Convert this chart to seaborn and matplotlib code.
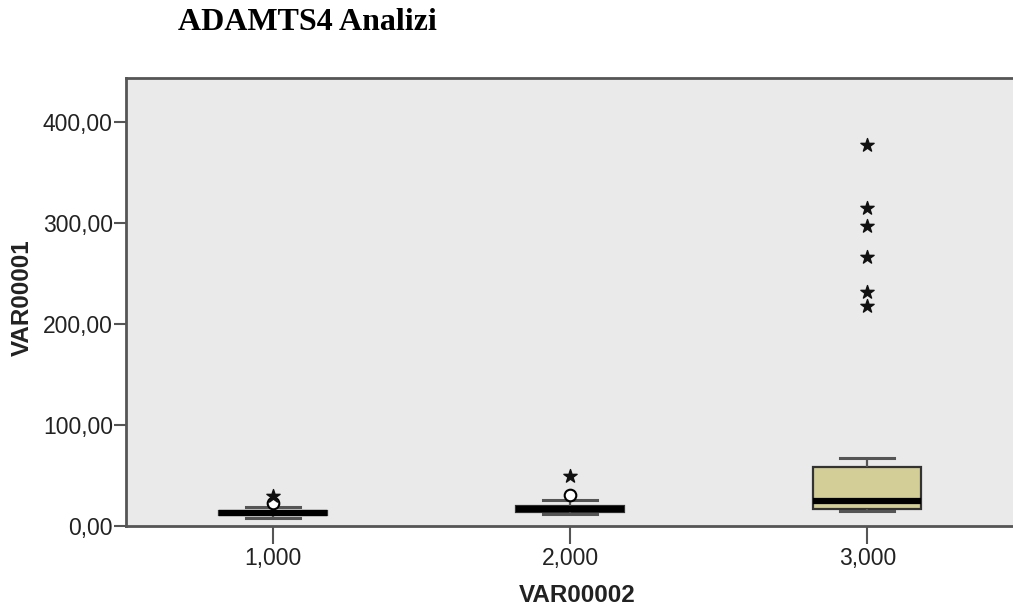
import numpy as np
import pandas as pd
import seaborn as sns
import matplotlib.pyplot as plt
from matplotlib.ticker import FuncFormatter

# ---- data ----
categories = ["1,000", "2,000", "3,000"]
group1 = [7.5, 8.4, 9.1, 9.8, 10.5, 10.9, 11.4, 12.0, 12.5, 13.0, 13.6, 14.3,
          15.0, 17.2, 19.0, 22.5, 30.0]
group2 = [12.0, 12.4, 12.8, 13.1, 13.5, 14.2, 15.0, 15.8, 16.5, 17.3, 18.1,
          19.0, 20.0, 22.3, 25.5, 30.5, 49.5]
group3 = [14.9, 15.2, 15.5, 15.8, 16.0, 16.3, 16.6, 16.8, 18.0, 19.5, 20.6,
          21.8, 22.9, 23.9, 24.8, 28.5, 33.0, 38.4, 44.1, 49.6, 54.2, 58.4,
          67.3, 218.0, 232.0, 267.0, 297.0, 315.0, 378.0]
y_ticks = [0, 100, 200, 300, 400]
title = "ADAMTS4 Analizi"
x_label = "VAR00002"
y_label = "VAR00001"

groups = [group1, group2, group3]
df = pd.DataFrame({
    x_label: np.repeat(categories, [len(g) for g in groups]),
    y_label: np.concatenate(groups),
})

# SPSS style outliers: circles (1.5-3 IQR), stars (>3 IQR)
circ_x, circ_y, star_x, star_y = [], [], [], []
for i, g in enumerate(groups):
    a = np.asarray(g)
    q1, q3 = np.percentile(a, [25, 75])
    iqr = q3 - q1
    for v in a:
        if v > q3 + 3 * iqr or v < q1 - 3 * iqr:
            star_x.append(i); star_y.append(v)
        elif v > q3 + 1.5 * iqr or v < q1 - 1.5 * iqr:
            circ_x.append(i); circ_y.append(v)

plt.rcParams['font.family'] = ['Liberation Sans', 'DejaVu Sans']

fig = plt.figure(figsize=(10.13, 6.14), dpi=100)
ax = fig.add_axes([126 / 1013, 1 - 526 / 614, 1 - 126 / 1013, (526 - 78) / 614])
ax.set_facecolor("#EAEAEA")

sns.boxplot(data=df, x=x_label, y=y_label, order=categories, ax=ax,
            width=0.363, color="#D3CE97", saturation=1, showfliers=False,
            whis=1.5, linecolor="#333333", linewidth=1.6,
            medianprops=dict(color="black", linewidth=4.5),
            whiskerprops=dict(color="#555555", linewidth=1.6),
            capprops=dict(color="#555555", linewidth=2.2))

ax.scatter(circ_x, circ_y, s=70, facecolors="white", edgecolors="black",
           linewidths=1.5, zorder=5)
ax.scatter(star_x, star_y, s=100, marker="*", color="#111111", zorder=5)

ax.set_xlim(-0.494, 2.49)
ax.set_ylim(0, 444)
ax.set_yticks(y_ticks)
ax.yaxis.set_major_formatter(FuncFormatter(lambda v, p: f"{v:.2f}".replace(".", ",")))

for s in ["left", "top", "bottom"]:
    ax.spines[s].set_color("#555555")
    ax.spines[s].set_linewidth(2)
ax.spines["right"].set_visible(False)

ax.tick_params(axis="y", direction="out", length=9, width=1.5, color="#555555",
               labelsize=16.5, pad=0.5, labelcolor="#222222")
ax.tick_params(axis="x", direction="out", length=13, width=1.5, color="#555555",
               labelsize=16.5, pad=2, labelcolor="#222222")

ax.set_xlabel(x_label, fontsize=17.5, fontweight="bold", color="#222222")
ax.set_ylabel(y_label, fontsize=17.5, fontweight="bold", color="#222222")
ax.xaxis.set_label_coords((577 - 126) / 887, (526 - 584) / 448)
ax.yaxis.set_label_coords((34 - 126) / 887, (526 - 298) / 448)

fig.text(178 / 1013, 1 - 22 / 614, title, fontsize=23, fontweight="bold",
         family=["Liberation Serif", "DejaVu Serif"], va="center", ha="left")

fig.savefig("out.png", dpi=100, facecolor="white")
